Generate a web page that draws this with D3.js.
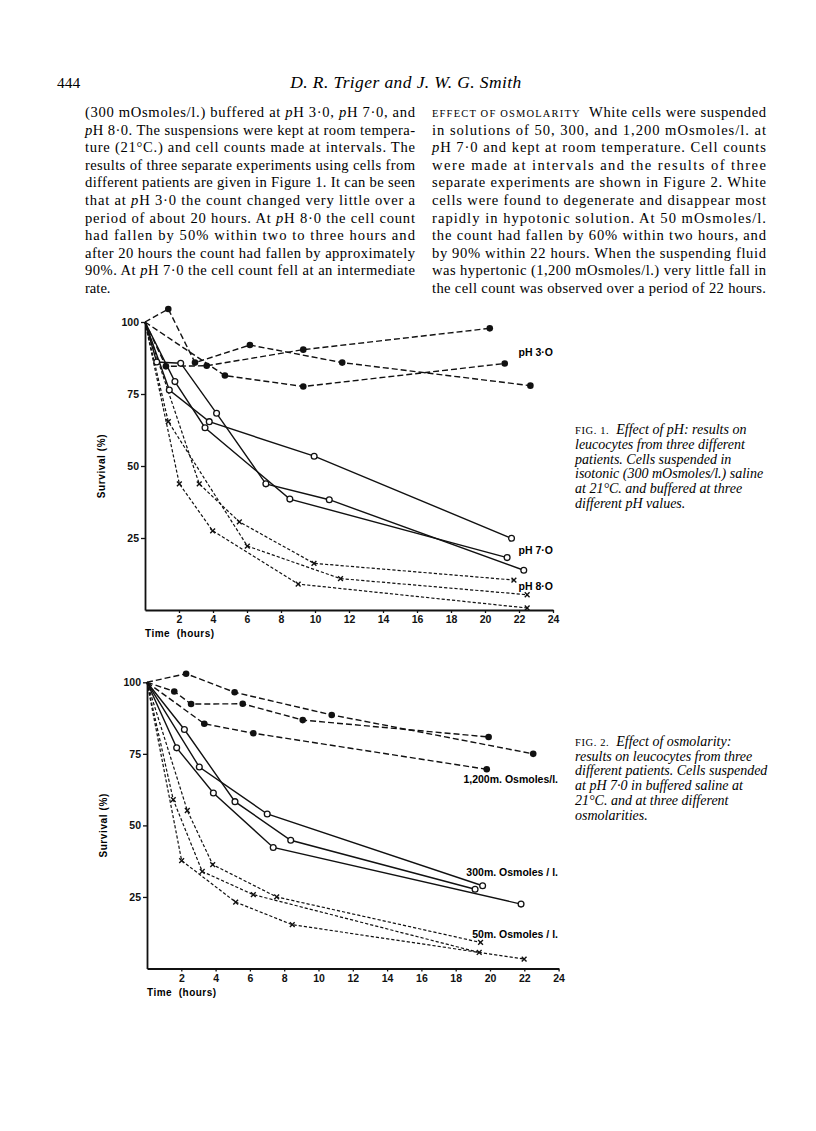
<!DOCTYPE html>
<html><head><meta charset="utf-8">
<script src="https://cdn.jsdelivr.net/npm/d3@7"></script>
<style>body{margin:0;background:#fff}svg{display:block}</style>
</head><body>
<script>
// ---------- DATA ----------
const xTicks = [2,4,6,8,10,12,14,16,18,20,22,24];
const yTicks = [25,50,75,100];

// Fig 1 – effect of pH (hours, survival %)
const pH3_a = [[0,100],[1.37,104.5],[2.94,85.9],[6.17,92.0],[11.6,85.9],[22.67,77.9]];
const pH3_b = [[0,100],[1.23,84.6],[3.63,84.8],[9.31,90.4],[20.28,97.8]];
const pH3_c = [[0,100],[4.70,81.4],[9.31,77.6],[21.16,85.6]];
const pH7_a = [[0,100],[0.69,86.1],[2.10,85.7],[4.21,68.3],[7.11,43.8],[10.84,38.3],[22.28,13.8]];
const pH7_b = [[0,100],[1.76,79.3],[3.53,63.3],[8.52,38.5],[21.3,18.2]];
const pH7_c = [[0,100],[1.43,76.4],[3.78,65.4],[9.95,53.4],[21.56,24.9]];
const pH8_a = [[0,100],[3.19,43.8],[5.55,30.6],[9.94,16.2],[21.7,10.4]];
const pH8_b = [[0,100],[2.02,43.8],[3.98,27.5],[9.01,9.0],[22.48,0.7]];
const pH8_c = [[0,100],[1.37,65.4],[6.02,22.2],[11.5,10.9],[22.48,5.3]];

// Fig 2 – effect of osmolarity
const osm1200_a = [[0,100],[2.28,103.0],[5.11,96.5],[10.77,88.6],[22.52,75.0]];
const osm1200_b = [[0,100],[1.59,96.8],[2.57,92.4],[5.58,92.5],[9.08,86.8],[19.92,80.9]];
const osm1200_c = [[0,100],[3.34,85.5],[6.2,82.2],[19.81,69.6]];
const osm300_a = [[0,100],[2.18,83.5],[5.13,58.3],[8.38,44.8],[19.13,27.7]];
const osm300_b = [[0,100],[1.73,77.1],[3.87,61.3],[7.36,42.3],[21.81,22.5]];
const osm300_c = [[0,100],[3.05,70.4],[7.01,54.0],[19.57,28.9]];
const osm50_a = [[0,100],[2.02,37.7],[5.17,23.2],[8.47,15.3],[21.99,3.3]];
const osm50_b = [[0,100],[1.53,59.0],[3.22,33.9],[6.2,25.8],[19.37,5.6]];
const osm50_c = [[0,100],[2.35,55.2],[3.83,36.3],[7.56,25.0],[19.45,9.1]];

const fig1Labels = ["pH 3·O","pH 7·O","pH 8·O"];
const fig2Labels = ["1,200m. Osmoles/l.","300m. Osmoles / l.","50m. Osmoles / l."];

const pageNumber = "444";
const runningHead = "D. R. Triger and J. W. G. Smith";
const leftColumn = [
 "(300 mOsmoles/l.) buffered at pH 3·0, pH 7·0, and",
 "pH 8·0. The suspensions were kept at room tempera-",
 "ture (21°C.) and cell counts made at intervals. The",
 "results of three separate experiments using cells from",
 "different patients are given in Figure 1. It can be seen",
 "that at pH 3·0 the count changed very little over a",
 "period of about 20 hours. At pH 8·0 the cell count",
 "had fallen by 50% within two to three hours and",
 "after 20 hours the count had fallen by approximately",
 "90%. At pH 7·0 the cell count fell at an intermediate",
 "rate."
];
const rightColumn = [
 "§EFFECT OF OSMOLARITY§  White cells were suspended",
 "in solutions of 50, 300, and 1,200 mOsmoles/l. at",
 "pH 7·0 and kept at room temperature. Cell counts",
 "were made at intervals and the results of three",
 "separate experiments are shown in Figure 2. White",
 "cells were found to degenerate and disappear most",
 "rapidly in hypotonic solution. At 50 mOsmoles/l.",
 "the count had fallen by 60% within two hours, and",
 "by 90% within 22 hours. When the suspending fluid",
 "was hypertonic (1,200 mOsmoles/l.) very little fall in",
 "the cell count was observed over a period of 22 hours."
];
const caption1 = [
 "§FIG. 1.§  Effect of pH: results on",
 "leucocytes from three different",
 "patients. Cells suspended in",
 "isotonic (300 mOsmoles/l.) saline",
 "at 21°C. and buffered at three",
 "different pH values."
];
const caption2 = [
 "§FIG. 2.§  Effect of osmolarity:",
 "results on leucocytes from three",
 "different patients. Cells suspended",
 "at pH 7·0 in buffered saline at",
 "21°C. and at three different",
 "osmolarities."
];

// ---------- DRAW ----------
const svg = d3.select("body").append("svg").attr("width",816).attr("height",1131);
svg.append("rect").attr("width",816).attr("height",1131).attr("fill","#fff");

const serif = "'Liberation Serif','Times New Roman',serif";
const sans = "'Liberation Sans',Arial,sans-serif";

svg.append("text").attr("x",57).attr("y",88).attr("font-family",serif).attr("font-size",15.5).text(pageNumber);
svg.append("text").attr("x",406).attr("y",88).attr("text-anchor","middle").attr("font-family",serif)
  .attr("font-style","italic").attr("font-size",17.5).attr("letter-spacing",0.4).text(runningHead);

function rich(t, str, italicBase, scSize){
  const parts = str.split("§");
  parts.forEach((p,i)=>{
    if(i%2===1){ t.append("tspan").attr("font-size",scSize).attr("font-style","normal").attr("letter-spacing",0.6).text(p); return; }
    const segs = italicBase ? [p] : p.split(/(pH)/);
    segs.forEach(s=>{
      if(!s) return;
      if(s==="pH"){ t.append("tspan").attr("font-style","italic").text("p"); t.append("tspan").text("H"); }
      else t.append("tspan").text(s);
    });
  });
}

function column(lines, x0, width, y0, dy, justifyLast){
  lines.forEach((ln,i)=>{
    const t = svg.append("text").attr("x",x0).attr("y",y0+i*dy).attr("font-family",serif).attr("font-size",14.6)
      .attr("xml:space","preserve");
    if(i<lines.length-1 || justifyLast) t.attr("textLength",width).attr("lengthAdjust","spacing");
    rich(t, ln, false, 10.5);
  });
}
column(leftColumn, 85, 330, 117, 17.6, false);
column(rightColumn, 432, 334, 117, 17.6, true);

function caption(lines, x0, y0, dy){
  lines.forEach((ln,i)=>{
    const t = svg.append("text").attr("x",x0).attr("y",y0+i*dy).attr("font-family",serif)
      .attr("font-size",14).attr("font-style","italic").attr("xml:space","preserve");
    rich(t, ln, true, 10.5);
  });
}
caption(caption1, 575, 434, 14.8);
caption(caption2, 575, 746, 14.7);

function chart(cfg){
  const x = d3.scaleLinear().domain([0,24]).range([cfg.x0, cfg.x1]);
  const y = d3.scaleLinear().domain([0,100]).range([cfg.y0, cfg.y1]);
  const g = svg.append("g");
  const line = d3.line().x(d=>x(d[0])).y(d=>y(d[1]));
  const styles = {
    long:{dash:"6,3", w:1.4},
    solid:{dash:null, w:1.4},
    short:{dash:"3.2,2", w:1.2}
  };
  cfg.series.forEach(s=>{
    const st = styles[s.style];
    g.append("path").datum(s.data).attr("d",line).attr("fill","none").attr("stroke","#111")
      .attr("stroke-width",st.w).attr("stroke-dasharray",st.dash);
  });
  cfg.series.forEach(s=>{
    const pts = s.data.slice(1);
    if(s.marker==="dot"){
      g.selectAll(null).data(pts).join("circle").attr("cx",d=>x(d[0])).attr("cy",d=>y(d[1])).attr("r",3.3).attr("fill","#111");
    } else if(s.marker==="open"){
      g.selectAll(null).data(pts).join("circle").attr("cx",d=>x(d[0])).attr("cy",d=>y(d[1])).attr("r",2.9)
        .attr("fill","#fff").attr("stroke","#111").attr("stroke-width",1.3);
    } else {
      g.selectAll(null).data(pts).join("path")
        .attr("d",d=>{const cx=x(d[0]),cy=y(d[1]),r=2.4;return `M${cx-r},${cy-r}L${cx+r},${cy+r}M${cx-r},${cy+r}L${cx+r},${cy-r}`;})
        .attr("stroke","#111").attr("stroke-width",1.4).attr("fill","none");
    }
  });
  const ax = g.append("g").attr("transform",`translate(0,${cfg.y0})`)
    .call(d3.axisBottom(x).tickValues(xTicks).tickSize(3).tickSizeOuter(0).tickPadding(3).tickFormat(d3.format("d")));
  const ay = g.append("g").attr("transform",`translate(${cfg.x0},0)`)
    .call(d3.axisLeft(y).tickValues(yTicks).tickSize(4).tickSizeOuter(0).tickPadding(2).tickFormat(d3.format("d")));
  [ax,ay].forEach(a=>{
    a.select(".domain").attr("stroke","#111").attr("stroke-width",1.8);
    a.selectAll(".tick line").attr("stroke","#111").attr("stroke-width",1.3);
    a.selectAll("text").attr("font-family",sans).attr("font-weight","bold").attr("font-size",10.5).attr("fill","#111");
  });
  g.append("text").attr("x",cfg.x0).attr("y",cfg.y0+27).attr("font-family",sans).attr("font-weight","bold")
    .attr("font-size",10).attr("letter-spacing",0.5).attr("xml:space","preserve").text("Time  (hours)");
  g.append("text").attr("transform",`translate(${cfg.x0-40},${y(50)}) rotate(-90)`).attr("text-anchor","middle")
    .attr("font-family",sans).attr("font-weight","bold").attr("font-size",10).attr("letter-spacing",0.6).text("Survival (%)");
  cfg.labels.forEach(l=>{
    g.append("text").attr("x",l.x).attr("y",l.y).attr("text-anchor","end").attr("font-family",sans).attr("font-weight","bold")
      .attr("font-size",10.5).attr("xml:space","preserve").text(l.t);
  });
}

chart({x0:145,x1:553,y0:610,y1:322,
  series:[
    {data:pH3_a,style:"long",marker:"dot"},{data:pH3_b,style:"long",marker:"dot"},{data:pH3_c,style:"long",marker:"dot"},
    {data:pH7_a,style:"solid",marker:"open"},{data:pH7_b,style:"solid",marker:"open"},{data:pH7_c,style:"solid",marker:"open"},
    {data:pH8_a,style:"short",marker:"x"},{data:pH8_b,style:"short",marker:"x"},{data:pH8_c,style:"short",marker:"x"}
  ],
  labels:[{t:fig1Labels[0],x:553,y:356},{t:fig1Labels[1],x:553,y:554},{t:fig1Labels[2],x:553,y:590}]
});

chart({x0:147,x1:558.6,y0:968.5,y1:682.3,
  series:[
    {data:osm1200_a,style:"long",marker:"dot"},{data:osm1200_b,style:"long",marker:"dot"},{data:osm1200_c,style:"long",marker:"dot"},
    {data:osm300_a,style:"solid",marker:"open"},{data:osm300_b,style:"solid",marker:"open"},{data:osm300_c,style:"solid",marker:"open"},
    {data:osm50_a,style:"short",marker:"x"},{data:osm50_b,style:"short",marker:"x"},{data:osm50_c,style:"short",marker:"x"}
  ],
  labels:[{t:fig2Labels[0],x:558,y:783},{t:fig2Labels[1],x:558,y:876},{t:fig2Labels[2],x:558,y:938}]
});
</script>
</body></html>
